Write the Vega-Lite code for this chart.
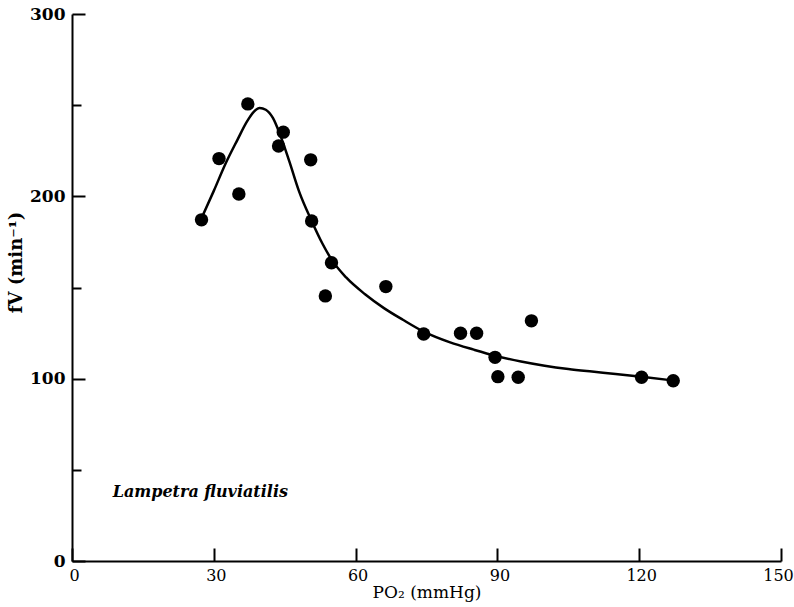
{
  "$schema": "https://vega.github.io/schema/vega-lite/v6.json",
  "width": 709,
  "height": 547,
  "autosize": "none",
  "padding": {"left": 72, "top": 14, "right": 13, "bottom": 46},
  "background": "white",
  "config": {
    "view": {"stroke": null},
    "axis": {
      "grid": false,
      "domainColor": "black",
      "domainWidth": 2,
      "tickColor": "black",
      "tickWidth": 2,
      "labelColor": "black",
      "titleColor": "black",
      "labelFont": "DejaVu Serif",
      "titleFont": "DejaVu Serif"
    }
  },
  "datasets": {
    "points": [
      {"po2": 27.4, "fv": 187.1},
      {"po2": 31.1, "fv": 220.7},
      {"po2": 35.3, "fv": 201.3},
      {"po2": 37.2, "fv": 250.7},
      {"po2": 43.7, "fv": 227.6},
      {"po2": 44.7, "fv": 235.2},
      {"po2": 50.5, "fv": 220.0},
      {"po2": 50.7, "fv": 186.5},
      {"po2": 54.9, "fv": 163.6},
      {"po2": 53.6, "fv": 145.4},
      {"po2": 66.4, "fv": 150.5},
      {"po2": 74.4, "fv": 124.5},
      {"po2": 82.2, "fv": 124.9},
      {"po2": 85.6, "fv": 124.9},
      {"po2": 89.5, "fv": 111.7},
      {"po2": 90.1, "fv": 101.1},
      {"po2": 94.4, "fv": 100.8},
      {"po2": 97.2, "fv": 131.7},
      {"po2": 120.5, "fv": 100.8},
      {"po2": 127.2, "fv": 98.9}
    ],
    "curve": [
      {"po2": 27.4, "fv": 188.0},
      {"po2": 30.0, "fv": 203.0},
      {"po2": 32.5, "fv": 218.0},
      {"po2": 35.0, "fv": 231.0},
      {"po2": 37.0, "fv": 241.0},
      {"po2": 38.5, "fv": 246.5},
      {"po2": 39.7, "fv": 248.5},
      {"po2": 41.0, "fv": 247.5},
      {"po2": 42.5, "fv": 243.0},
      {"po2": 44.0, "fv": 234.0},
      {"po2": 46.0, "fv": 219.0},
      {"po2": 48.0, "fv": 203.0},
      {"po2": 50.7, "fv": 186.5},
      {"po2": 53.0, "fv": 174.0},
      {"po2": 55.0, "fv": 165.0},
      {"po2": 58.0, "fv": 155.5},
      {"po2": 62.0, "fv": 146.3},
      {"po2": 66.0, "fv": 138.7},
      {"po2": 70.0, "fv": 132.3},
      {"po2": 74.4, "fv": 125.8},
      {"po2": 80.0, "fv": 119.9},
      {"po2": 85.0, "fv": 115.9},
      {"po2": 89.5, "fv": 112.6},
      {"po2": 95.0, "fv": 109.4},
      {"po2": 100.0, "fv": 107.1},
      {"po2": 105.0, "fv": 105.3},
      {"po2": 110.0, "fv": 103.9},
      {"po2": 115.0, "fv": 102.6},
      {"po2": 120.5, "fv": 101.0},
      {"po2": 127.2, "fv": 99.0}
    ],
    "label": [
      {"po2": 8.6, "fv": 35, "text": "Lampetra fluviatilis"}
    ]
  },
  "layer": [
    {
      "data": {"name": "curve"},
      "mark": {"type": "line", "interpolate": "monotone", "color": "black", "strokeWidth": 2.5},
      "encoding": {
        "x": {
          "field": "po2", "type": "quantitative",
          "scale": {"domain": [0, 150], "nice": false, "zero": false},
          "axis": {
            "values": [0, 30, 60, 90, 120, 150],
            "tickSize": -13,
            "labelFontSize": 16,
            "labelPadding": 19,
            "labelFlush": false,
            "labelOffset": {"condition": {"test": "datum.value === 150", "value": -3}, "value": 2},
            "title": "PO₂ (mmHg)",
            "titleFontSize": 17,
            "titleFontWeight": "normal",
            "titlePadding": 1
          }
        },
        "y": {
          "field": "fv", "type": "quantitative",
          "scale": {"domain": [0, 300], "nice": false},
          "axis": {
            "values": [0, 50, 100, 150, 200, 250, 300],
            "labelExpr": "datum.value % 100 === 0 ? datum.label : ''",
            "tickSize": {"condition": {"test": "datum.value % 100 === 0", "value": -13}, "value": -9},
            "labelFontSize": 17,
            "labelFontWeight": "bold",
            "labelPadding": 20,
            "labelFlush": false,
            "title": "fV (min⁻¹)",
            "titleFontSize": 18,
            "titleFontWeight": "bold",
            "titleAngle": 270,
            "titleAlign": "center",
            "titleBaseline": "middle",
            "titleX": -56,
            "titleY": 248
          }
        }
      }
    },
    {
      "data": {"name": "points"},
      "mark": {"type": "circle", "size": 180, "color": "black", "opacity": 1},
      "encoding": {
        "x": {"field": "po2", "type": "quantitative"},
        "y": {"field": "fv", "type": "quantitative"}
      }
    },
    {
      "data": {"name": "label"},
      "mark": {"type": "text", "font": "DejaVu Serif", "fontStyle": "italic", "fontWeight": "bold", "fontSize": 16, "align": "left", "baseline": "alphabetic", "color": "black"},
      "encoding": {
        "x": {"field": "po2", "type": "quantitative"},
        "y": {"field": "fv", "type": "quantitative"},
        "text": {"field": "text"}
      }
    }
  ]
}
